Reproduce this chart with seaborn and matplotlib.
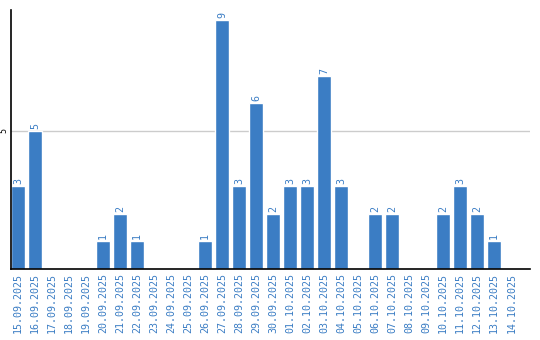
import matplotlib
matplotlib.use("Agg")
import matplotlib.pyplot as plt
import seaborn as sns
import pandas as pd

dates = ["15.09.2025", "16.09.2025", "17.09.2025", "18.09.2025", "19.09.2025",
         "20.09.2025", "21.09.2025", "22.09.2025", "23.09.2025", "24.09.2025",
         "25.09.2025", "26.09.2025", "27.09.2025", "28.09.2025", "29.09.2025",
         "30.09.2025", "01.10.2025", "02.10.2025", "03.10.2025", "04.10.2025",
         "05.10.2025", "06.10.2025", "07.10.2025", "08.10.2025", "09.10.2025",
         "10.10.2025", "11.10.2025", "12.10.2025", "13.10.2025", "14.10.2025"]
counts = [3, 5, 0, 0, 0, 1, 2, 1, 0, 0, 0, 1, 9, 3, 6,
          2, 3, 3, 7, 3, 0, 2, 2, 0, 0, 2, 3, 2, 1, 0]
yticks = [5]

blue = "#3b7dc4"
sns.set_theme(style="white")
plt.rcParams['font.family'] = ['DejaVu Sans Mono', 'DejaVu Sans']

df = pd.DataFrame({"date": dates, "count": counts})
fig = plt.figure(figsize=(5.4, 3.4), dpi=100)
ax = fig.add_axes([11/540, 1-269/340, (530-11)/540, (269-10)/340])
sns.barplot(data=df, x="date", y="count", color=blue, width=0.82,
            saturation=1, ax=ax, zorder=3)
ax.set_xlim(-0.41, 30.1)
ax.set_ylim(0, 9.38)
ax.set_yticks(yticks)
ax.set_yticklabels([str(t) for t in yticks], rotation=90, fontsize=6, color="black", va="center")
ax.tick_params(axis="y", length=0, pad=2)
ax.yaxis.grid(True, color="#cccccc", linewidth=1, zorder=0)
ax.set_xticks(range(len(dates)))
ax.set_xticklabels(dates, rotation=90, fontsize=7.2, color=blue)
ax.tick_params(axis="x", length=0, pad=3)
for s in ["top", "right"]:
    ax.spines[s].set_visible(False)
for s in ["left", "bottom"]:
    ax.spines[s].set_color("black")
    ax.spines[s].set_linewidth(1.2)
    ax.spines[s].set_zorder(4)
ax.set_xlabel("")
ax.set_ylabel("")
for i, v in enumerate(counts):
    if v > 0:
        ax.text(i, v + 0.08, str(v), rotation=90, ha="center", va="bottom",
                fontsize=7.2, color=blue)
fig.savefig("out.png", dpi=100)
